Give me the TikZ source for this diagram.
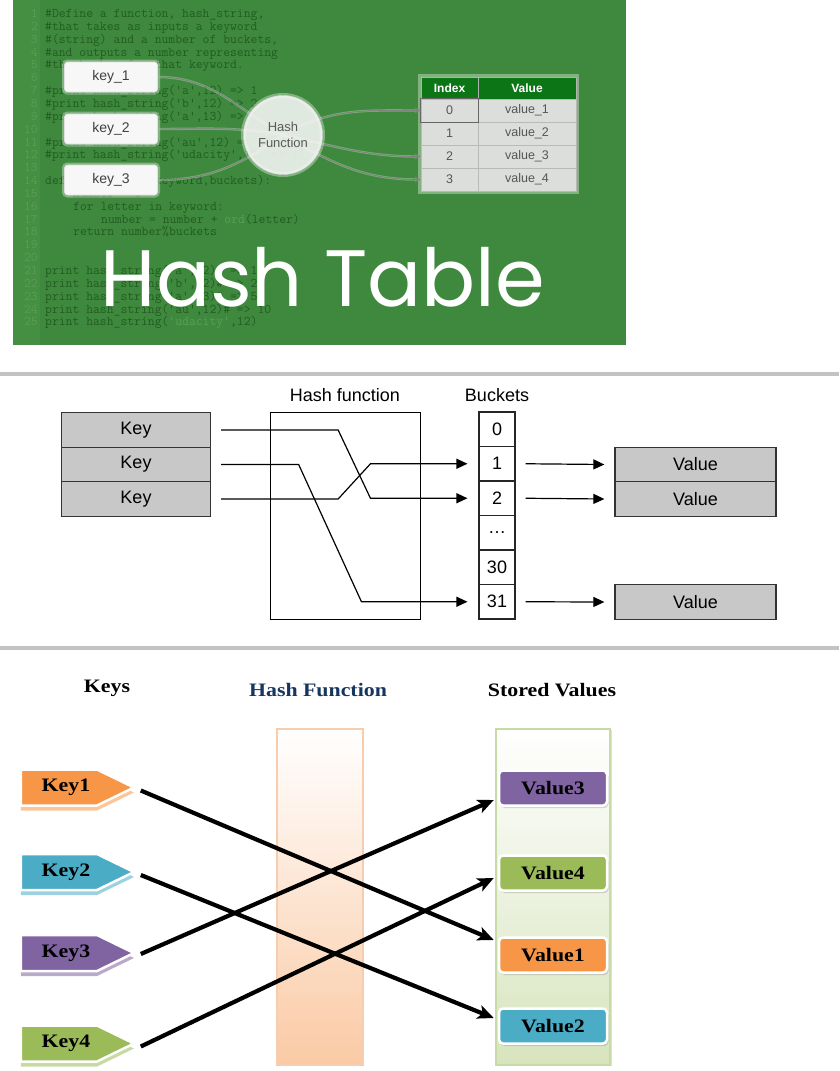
\documentclass[tikz,border=0pt]{standalone}
\usepackage{fontspec}
\setmainfont{Liberation Sans}
\newfontfamily\titlefont{Poppins}
\newfontfamily\oldfont{Liberation Serif}
\usetikzlibrary{positioning,arrows.meta,shapes.symbols,shadows}

\definecolor{boardgreen}{RGB}{62,137,61}
\definecolor{gutter}{RGB}{68,143,66}
\definecolor{codeink}{RGB}{34,92,33}
\definecolor{codenum}{RGB}{90,156,88}
\definecolor{codestr}{RGB}{88,160,86}
\definecolor{headgreen}{RGB}{12,118,22}
\definecolor{cellgray}{RGB}{220,222,220}
\definecolor{celltext}{RGB}{85,85,85}
\definecolor{boxgray}{RGB}{200,200,200}
\definecolor{sepgray}{RGB}{195,195,195}
\definecolor{keyorange}{RGB}{247,150,70}
\definecolor{keyblue}{RGB}{75,172,198}
\definecolor{keypurple}{RGB}{128,100,162}
\definecolor{keygreen}{RGB}{155,187,89}
\definecolor{navytitle}{RGB}{23,54,93}
\definecolor{peach}{RGB}{250,202,165}
\definecolor{peachedge}{RGB}{246,205,175}
\definecolor{palegreen}{RGB}{215,228,189}
\definecolor{greenedge}{RGB}{200,218,165}

\newcommand{\stretchtxt}[1]{\scalebox{1.15}[1]{#1}}

\begin{document}
\begin{tikzpicture}[x=1pt, y=-1pt,
    % top picture
    codeline/.style={anchor=base west, inner sep=0, text=codeink, font=\ttfamily\fontsize{13.3}{14}\selectfont},
    linenum/.style={anchor=base east, inner sep=0, text=codenum, font=\ttfamily\fontsize{13.3}{14}\selectfont},
    glow/.style={preaction={draw=white, line width=5, opacity=0.35}},
    keycard/.style={glow, draw=white!88!black, line width=0.6, fill=gray!6, rounded corners=3, minimum width=93, minimum height=30, inner sep=0, text=black!75, font=\fontsize{14}{16}\selectfont},
    hashdisc/.style={glow, circle, draw=white!85!black, fill=gray!6, fill opacity=0.88, text opacity=1, minimum size=79, inner sep=0, align=center, text=black!65, font=\fontsize{13}{16}\selectfont},
    wire/.style={draw=black!50, line width=0.8, preaction={draw=white, line width=2.4, opacity=0.3}},
    head/.style={draw=gray!60, fill=headgreen, text=white, minimum height=22, inner sep=0, font=\bfseries\fontsize{12}{14}\selectfont},
    cell/.style={draw=gray!55, fill=cellgray, text=celltext, minimum height=23, inner sep=0, font=\fontsize{12.5}{14}\selectfont},
    % middle picture
    plainlbl/.style={font=\fontsize{18}{20}\selectfont},
    keybox/.style={draw=black!80, line width=1.3, fill=boxgray, minimum width=149, minimum height=34.5, inner sep=0, plainlbl},
    bucket/.style={draw=black!85, line width=1.1, fill=white, minimum width=36, minimum height=34.5, inner sep=0, plainlbl},
    link/.style={line width=1.2, -{Triangle[length=11,width=10]}},
    sepline/.style={draw=sepgray, line width=4},
    % bottom picture
    oldface/.style={font=\oldfont\bfseries\fontsize{19}{22}\selectfont},
    keytag/.style={signal, signal to=east, signal pointer angle=52, draw=white, line width=2.5, fill=#1, minimum width=113, minimum height=36, inner sep=0, oldface, drop shadow={fill=#1!55!white, opacity=1, shadow xshift=0, shadow yshift=5}},
    valtag/.style={draw=white, line width=2.5, rounded corners=4, fill=#1, minimum width=108, minimum height=35, inner sep=0, oldface, drop shadow={opacity=0.3, shadow xshift=1.5, shadow yshift=2.5}},
    fat/.style={line width=4.2, -{Stealth[length=16,width=14,inset=4]}}
  ]
  \useasboundingbox (0,0) rectangle (839,1071);
  \fill[white] (0,0) rectangle (839,1071);

  % ---- top: green board with code
  \fill[boardgreen] (13,0) rectangle (626,345);
  \fill[gutter] (13,0) rectangle (40,345);
  \foreach \n in {1,...,25}
    \node[linenum] (n\n) at (38,17.5+12.85*\n-12.85) {\n};
  \foreach \n/\i/\t in {
      1/0/{\#Define a function, hash\_string,},
      2/0/{\#that takes as inputs a keyword},
      3/0/{\#(string) and a number of buckets,},
      4/0/{\#and outputs a number representing},
      5/0/{\#the bucket for that keyword.},
      7/0/{\#print hash\_string('a',12) => 1},
      8/0/{\#print hash\_string('b',12) => 2},
      9/0/{\#print hash\_string('a',13) => 5},
      11/0/{\#print hash\_string('au',12) => 10},
      12/0/{\#print hash\_string('udacity',12) => 11},
      14/0/{def hash\_string(keyword,buckets):},
      15/4/{number = 0},
      16/4/{for letter in keyword:},
      17/8/{number = number + \textcolor{codestr}{ord}(letter)},
      18/4/{return number\%buckets},
      21/0/{print hash\_string('a',12)\# => 1},
      22/0/{print hash\_string('b',12)\# => 2},
      23/0/{print hash\_string('a',13)\# => 5},
      24/0/{print hash\_string('au',12)\# => 10},
      25/0/{print hash\_string(\textcolor{codestr}{'udacity'},12)}}
    \node[codeline] (c\n) at (45+7*\i,17.5+12.85*\n-12.85) {\t};

  % table
  \draw[white, opacity=0.35, line width=6] (421,77) rectangle (576,191);
  \node[head, minimum width=57] (idxhead) at (449.5,88) {Index};
  \node[head, minimum width=98] (valhead) at (527,88) {Value};
  \foreach \r/\v in {0/value\_1, 1/value\_2, 2/value\_3, 3/value\_4} {
    \node[cell, minimum width=57] (ix\r) at (449.5,110.5+23*\r) {\r};
    \node[cell, minimum width=98] (vx\r) at (527,110.5+23*\r) {\v};
  }
  \draw[black!60, line width=0.8] (ix0.north west) rectangle (ix0.south east);

  \node[keycard] (k1) at (111,77) {key\_1};
  \node[keycard] (k2) at (111,129) {key\_2};
  \node[keycard] (k3) at (111,180) {key\_3};
  \coordinate (hfc) at (283,135);

  \draw[wire, -{Stealth[length=6,width=5]}] (k1.east) to[out=0,in=150] (hfc) to[out=-30,in=180] (ix3.west);
  \draw[wire, -{Stealth[length=6,width=5]}] (k2.east) to[out=0,in=170] (hfc) to[out=-12,in=180] (ix2.west);
  \draw[wire, -{Stealth[length=6,width=5]}] (k3.east) to[out=0,in=215] (hfc) to[out=30,in=180] (ix0.west);
  \node[hashdisc] (hf) at (hfc) {Hash\\Function};

  \node[text=white, anchor=base, font=\titlefont\fontsize{80}{90}\selectfont] (bigtitle) at (323,306) {Hash Table};

  % ---- middle: keys, hash function, buckets
  \draw[sepline] (0,374) -- (839,374);
  \node[plainlbl] (hflabel) at (345,395) {Hash function};
  \node[plainlbl] (bklabel) at (497,395) {Buckets};
  \foreach \i/\y in {1/430, 2/464.5, 3/499}
    \node[keybox] (key\i) at (136,\y) {Key};
  \node[draw, line width=1, minimum width=150.5, minimum height=207, inner sep=0] (hfbox) at (345.25,515.5) {};
  \foreach \i/\t in {0/0, 1/1, 2/2, 3/\ldots, 4/30, 5/31}
    \node[bucket] (b\i) at (497,429.25+34.5*\i) {\t};
  \node[keybox, minimum width=161] (v1) at (695.5,464.5) {Value};
  \node[keybox, minimum width=161] (v2) at (695.5,499) {Value};
  \node[keybox, minimum width=161] (v5) at (695.5,602) {Value};
  \foreach \i in {1,2,5}
    \draw[link] ([xshift=10]b\i.east) -- ([xshift=-10]v\i.west);
  \draw[link] ([xshift=10]key1.east) -- ([xshift=127]key1.east) -- ([xshift=-108]b2.west) -- ([xshift=-11]b2.west);
  \draw[link] ([xshift=10]key2.east) -- ([xshift=87.5]key2.east) -- ([xshift=-117]b5.west) -- ([xshift=-11]b5.west);
  \draw[link] ([xshift=10]key3.east) -- ([xshift=127]key3.east) -- ([xshift=-108]b1.west) -- ([xshift=-11]b1.west);
  \draw[sepline] (0,648) -- (839,648);

  % ---- bottom: keys to stored values
  \node[oldface] (keystitle) at (107,688) {\stretchtxt{Keys}};
  \node[oldface, text=navytitle] (hftitle) at (318,690) {\stretchtxt{Hash Function}};
  \node[oldface] (svtitle) at (552,690) {\stretchtxt{Stored Values}};

  \node[draw=peachedge, line width=1.5, top color=white, bottom color=peach, minimum width=86, minimum height=336, inner sep=0] (hfcol) at (320,897) {};
  \node[draw=greenedge, line width=1.5, top color=white, bottom color=palegreen, minimum width=114, minimum height=336, inner sep=0, drop shadow={opacity=0.25, shadow xshift=2, shadow yshift=1}] (valcol) at (553,897) {};

  \foreach \i/\c/\y in {1/keyorange/787.5, 2/keyblue/872, 3/keypurple/953, 4/keygreen/1043.5}
    \node[keytag=\c] (tag\i) at (59,\y) {\hspace*{14pt}\stretchtxt{Key\i}};
  \node[valtag=keypurple] (val3) at (553,788) {\stretchtxt{Value3}};
  \node[valtag=keygreen] (val4) at (553,873) {\stretchtxt{Value4}};
  \node[valtag=keyorange] (val1) at (553,955) {\stretchtxt{Value1}};
  \node[valtag=keyblue] (val2) at (553,1026) {\stretchtxt{Value2}};

  \draw[fat] ([xshift=4,yshift=-3]tag1.east) -- ([xshift=-4,yshift=15]val1.west);
  \draw[fat] ([xshift=4,yshift=-3]tag2.east) -- ([xshift=-4,yshift=8]val2.west);
  \draw[fat] ([xshift=4,yshift=-1]tag3.east) -- ([xshift=-4,yshift=-12]val3.west);
  \draw[fat] ([xshift=4,yshift=-3]tag4.east) -- ([xshift=-4,yshift=-5]val4.west);
\end{tikzpicture}
\end{document}
